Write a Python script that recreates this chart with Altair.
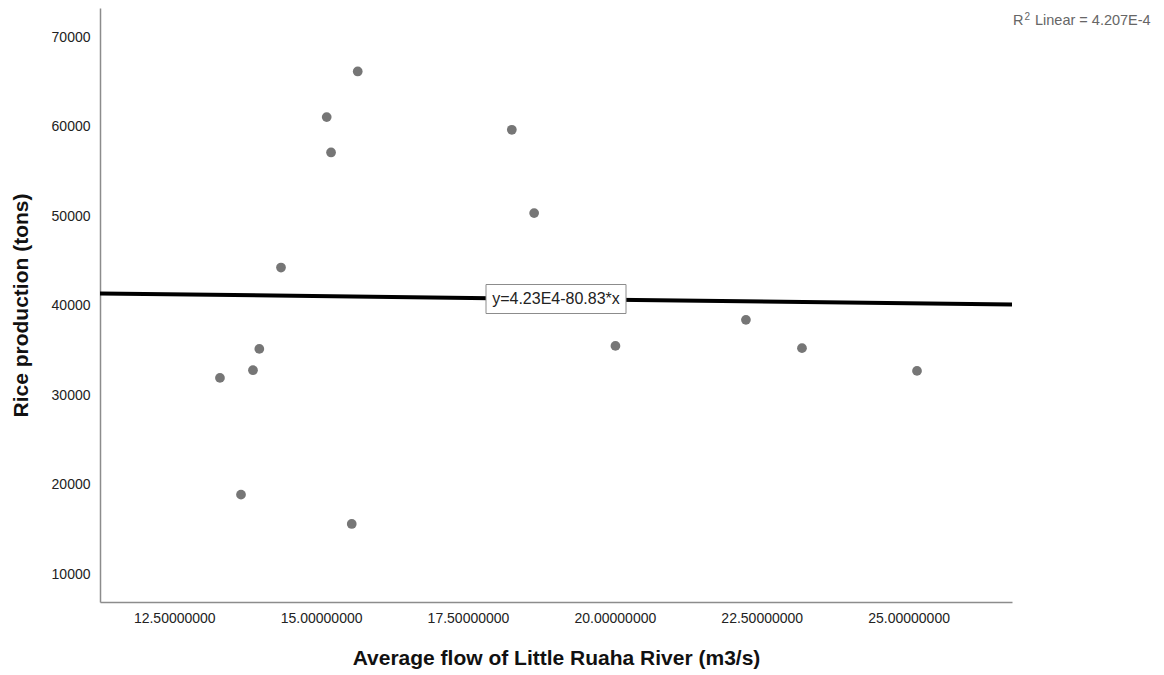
import altair as alt
import pandas as pd

# Data
flow = [15.623, 15.095, 15.169, 14.317, 13.948, 13.840, 13.278, 13.636, 15.521,
        18.246, 18.626, 20.010, 22.231, 23.185, 25.143]
rice = [66198, 61099, 57141, 44281, 35191, 32809, 31947, 18898, 15622,
        59679, 50364, 35526, 38433, 35269, 32730]

x_domain = [11.236, 26.76]
y_domain = [6900, 73290]
x_ticks = [12.5, 15.0, 17.5, 20.0, 22.5, 25.0]
y_ticks = [10000, 20000, 30000, 40000, 50000, 60000, 70000]

intercept = 42300
slope = -80.83
eq_label = "y=4.23E4-80.83*x"
r2_parts = ["R", "2", "Linear = 4.207E-4"]

pts = pd.DataFrame({"flow": flow, "rice": rice})
fit = pd.DataFrame({"flow": x_domain,
                    "rice": [intercept + slope * v for v in x_domain]})
mid_x = (x_domain[0] + x_domain[1]) / 2
lab = pd.DataFrame({"flow": [mid_x], "rice": [intercept + slope * mid_x],
                    "txt": [eq_label]})

W, H = 912, 594
FONT = "Liberation Sans"

xs = alt.Scale(domain=x_domain, nice=False, zero=False)
ys = alt.Scale(domain=y_domain, nice=False, zero=False)

x_axis = alt.Axis(values=x_ticks, format=".8f", grid=False, ticks=False,
                  domainColor="#8c8c8c", domainWidth=1.5, labelFont=FONT,
                  labelFontSize=14, labelColor="#222222", labelPadding=9,
                  title="Average flow of Little Ruaha River (m3/s)",
                  titleFont=FONT, titleFontSize=21, titleFontWeight="bold",
                  titleColor="#111111", titlePadding=22)
y_axis = alt.Axis(values=y_ticks, format="d", grid=False, ticks=False,
                  domainColor="#8c8c8c", domainWidth=1.5, labelFont=FONT,
                  labelFontSize=14, labelColor="#222222", labelPadding=10,
                  title="Rice production (tons)",
                  titleFont=FONT, titleFontSize=21, titleFontWeight="bold",
                  titleColor="#111111", titlePadding=20)

points = alt.Chart(pts).mark_circle(size=95, color="#767676", opacity=1).encode(
    x=alt.X("flow:Q", scale=xs, axis=x_axis),
    y=alt.Y("rice:Q", scale=ys, axis=y_axis),
)

line = alt.Chart(fit).mark_line(color="#000000", strokeWidth=4).encode(
    x=alt.X("flow:Q", scale=xs),
    y=alt.Y("rice:Q", scale=ys),
)

box = alt.Chart(lab).mark_rect(width=140, height=29, fill="white",
                               stroke="#8c8c8c", strokeWidth=1).encode(
    x=alt.X("flow:Q", scale=xs),
    y=alt.Y("rice:Q", scale=ys),
)

eq = alt.Chart(lab).mark_text(font=FONT, fontSize=16, color="#222222",
                              align="center", baseline="middle").encode(
    x=alt.X("flow:Q", scale=xs),
    y=alt.Y("rice:Q", scale=ys),
    text="txt:N",
)

r2_main = alt.Chart(pd.DataFrame({"t": [r2_parts[2]]})).mark_text(
    font=FONT, fontSize=14.5, color="#666666", align="left", baseline="middle"
).encode(x=alt.value(935), y=alt.value(13), text="t:N")
r2_r = alt.Chart(pd.DataFrame({"t": [r2_parts[0]]})).mark_text(
    font=FONT, fontSize=14.5, color="#666666", align="left", baseline="middle"
).encode(x=alt.value(913), y=alt.value(13), text="t:N")
r2_sup = alt.Chart(pd.DataFrame({"t": [r2_parts[1]]})).mark_text(
    font=FONT, fontSize=10, color="#666666", align="left", baseline="middle"
).encode(x=alt.value(924.5), y=alt.value(9), text="t:N")

chart = alt.layer(points, line, box, eq, r2_main, r2_r, r2_sup).properties(
    width=W, height=H,
    autosize=alt.AutoSizeParams(type="none"),
    padding={"left": 100, "top": 8, "right": 152, "bottom": 73},
).configure(background="white").configure_view(stroke=None, strokeWidth=0)

chart.save("out.html", embed_options={"renderer": "svg", "actions": False})
